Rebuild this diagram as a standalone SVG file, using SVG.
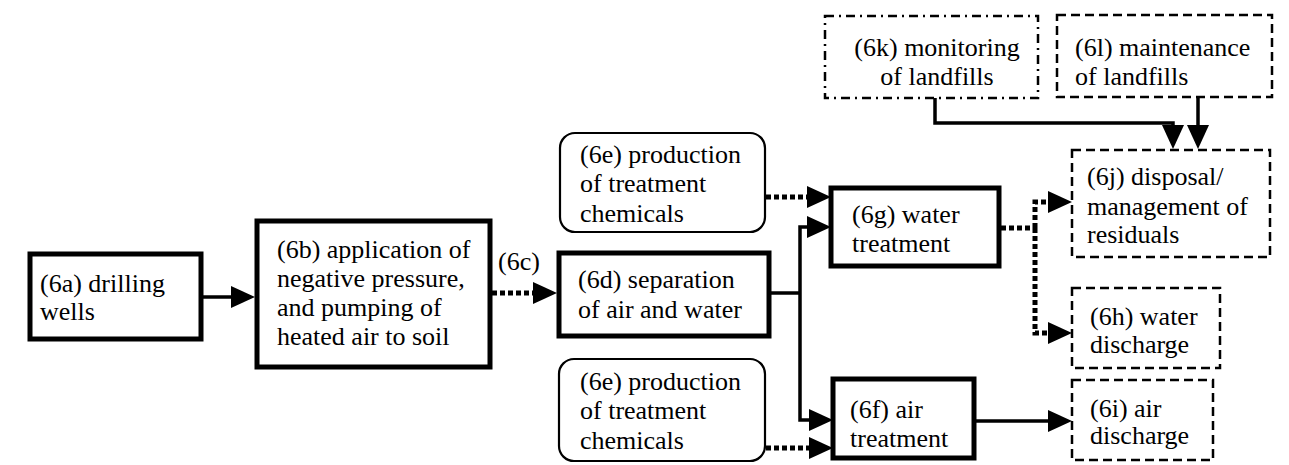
<svg xmlns="http://www.w3.org/2000/svg" width="1289" height="465" viewBox="0 0 1289 465">
  <defs>
    <style>
      .main { fill: #fff; stroke: #000; stroke-width: 5; }
      .chem { fill: #fff; stroke: #000; stroke-width: 2.2; }
      .dash { fill: #fff; stroke: #000; stroke-width: 2.5; stroke-dasharray: 9 5; }
      .dashdot { fill: #fff; stroke: #000; stroke-width: 2.5; stroke-dasharray: 9 5 2 5; }
      .solid { fill: none; stroke: #000; stroke-width: 3.5; }
      .dotted { fill: none; stroke: #000; stroke-width: 5; stroke-dasharray: 5 3; }
    </style>
    <marker id="arrow" markerUnits="userSpaceOnUse" markerWidth="24" markerHeight="22" refX="4" refY="11" orient="auto" viewBox="0 0 24 22">
      <path d="M0,0 L24,11 L0,22 z" fill="#000"/>
    </marker>
  </defs>

  <rect width="1289" height="465" fill="#fff"/>

  <g font-family="'Times New Roman', Times, 'Liberation Serif', Tinos, 'Nimbus Roman', 'Noto Serif', 'DejaVu Serif', serif" font-size="26" fill="#000">

  <!-- connectors -->
  <g id="connectors">
    <path class="solid" d="M202,297 H235" marker-end="url(#arrow)"/>
    <path class="dotted" d="M492,293 H537" marker-end="url(#arrow)"/>
    <text x="498" y="270">(6c)</text>
    <path class="solid" d="M771,293 H800"/>
    <path class="solid" d="M800,293 V227 H811" marker-end="url(#arrow)"/>
    <path class="solid" d="M800,293 V420 H813" marker-end="url(#arrow)"/>
    <path class="dotted" d="M766,197 H811" marker-end="url(#arrow)"/>
    <path class="dotted" d="M766,448 H813" marker-end="url(#arrow)"/>
    <path class="dotted" d="M1001,228 H1035"/>
    <path class="dotted" d="M1035,228 V202 H1052" marker-end="url(#arrow)"/>
    <path class="dotted" d="M1035,228 V333 H1052" marker-end="url(#arrow)"/>
    <path class="solid" d="M975,421 H1052" marker-end="url(#arrow)"/>
    <path class="solid" d="M935,98 V123 H1173 V129" marker-end="url(#arrow)"/>
    <path class="solid" d="M1198,97 V129" marker-end="url(#arrow)"/>
  </g>

  <g id="n6a">
    <rect class="main" x="30" y="254" width="171" height="85"/>
    <text x="40" y="292">(6a) drilling</text>
    <text x="40" y="320">wells</text>
  </g>

  <g id="n6b">
    <rect class="main" x="257" y="221" width="233" height="146"/>
    <text x="277" y="258">(6b) application of</text>
    <text x="277" y="287">negative pressure,</text>
    <text x="277" y="316">and pumping of</text>
    <text x="277" y="345">heated air to soil</text>
  </g>

  <g id="n6d">
    <rect class="main" x="559" y="253" width="210" height="83"/>
    <text x="578" y="288">(6d) separation</text>
    <text x="578" y="318">of air and water</text>
  </g>

  <g id="n6e-water">
    <rect class="chem" x="560" y="133" width="205" height="99" rx="15"/>
    <text x="580" y="163">(6e) production</text>
    <text x="580" y="192">of treatment</text>
    <text x="580" y="222">chemicals</text>
  </g>

  <g id="n6e-air">
    <rect class="chem" x="559" y="359" width="206" height="102" rx="15"/>
    <text x="580" y="390">(6e) production</text>
    <text x="580" y="419">of treatment</text>
    <text x="580" y="449">chemicals</text>
  </g>

  <g id="n6g">
    <rect class="main" x="831" y="188" width="168" height="78"/>
    <text x="852" y="223">(6g) water</text>
    <text x="852" y="252">treatment</text>
  </g>

  <g id="n6f">
    <rect class="main" x="833" y="379" width="141" height="79"/>
    <text x="850" y="418">(6f) air</text>
    <text x="850" y="447">treatment</text>
  </g>

  <g id="n6j">
    <rect class="dash" x="1072" y="150" width="198" height="107"/>
    <text x="1087" y="185">(6j) disposal/</text>
    <text x="1087" y="215">management of</text>
    <text x="1087" y="243">residuals</text>
  </g>

  <g id="n6h">
    <rect class="dash" x="1072" y="288" width="148" height="80"/>
    <text x="1090" y="325">(6h) water</text>
    <text x="1090" y="353">discharge</text>
  </g>

  <g id="n6i">
    <rect class="dash" x="1072" y="380" width="141" height="80"/>
    <text x="1090" y="417">(6i) air</text>
    <text x="1090" y="444">discharge</text>
  </g>

  <g id="n6k">
    <rect class="dashdot" x="825" y="16" width="213" height="82"/>
    <text x="937" y="56" text-anchor="middle">(6k) monitoring</text>
    <text x="937" y="85" text-anchor="middle">of landfills</text>
  </g>

  <g id="n6l">
    <rect class="dash" x="1057" y="15" width="215" height="82"/>
    <text x="1075" y="56">(6l) maintenance</text>
    <text x="1075" y="85">of landfills</text>
  </g>

  </g>
</svg>
